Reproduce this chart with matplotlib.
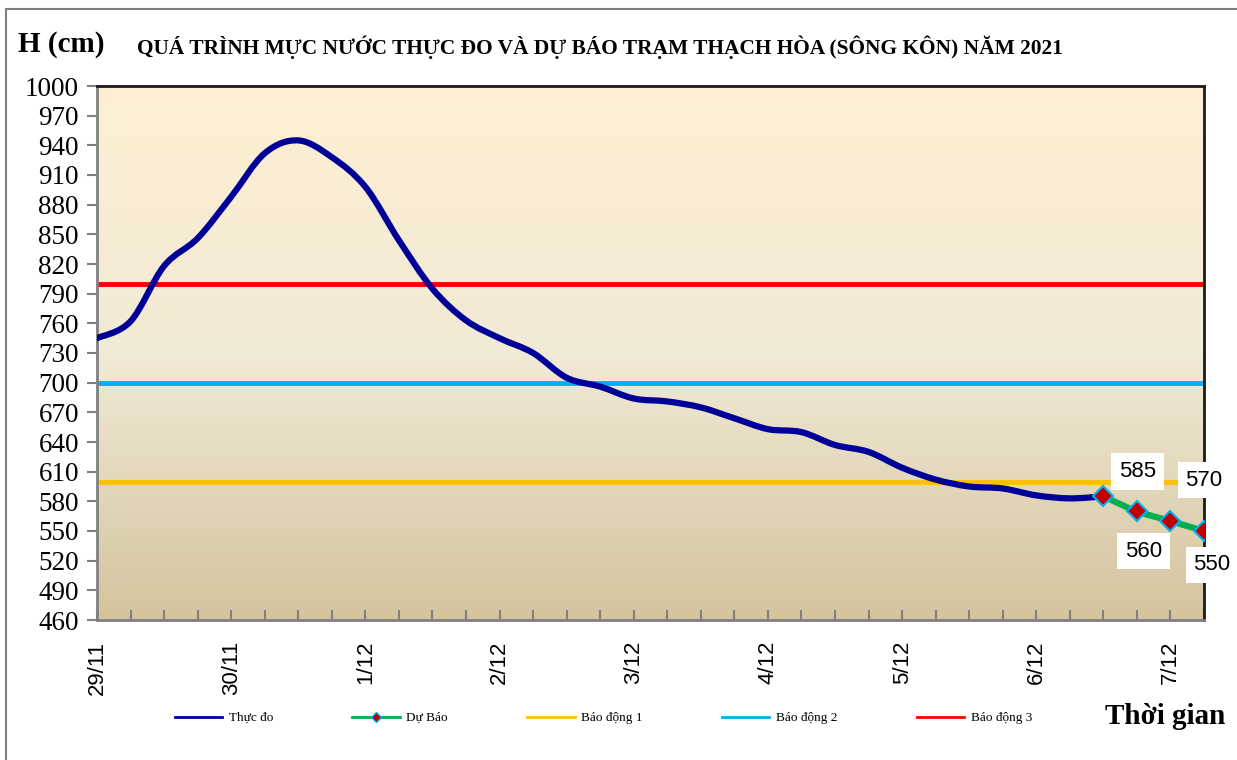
import numpy as np
import matplotlib.pyplot as plt
from matplotlib.colors import LinearSegmentedColormap
from matplotlib.patches import Rectangle, PathPatch
from matplotlib.path import Path
from matplotlib.lines import Line2D

# Data: water level every 6 hours starting 29/11 00h
observed = [745, 762, 818, 846, 888, 932, 945, 928, 898, 844, 795, 763,
            745, 730, 705, 696, 684, 681, 675, 664, 653, 650, 637, 630,
            614, 602, 595, 593, 586, 583, 585]
forecast = [585, 570, 560, 550]
forecast_start = 30
alarm_levels = [600, 700, 800]
alarm_names = ['Báo động 1', 'Báo động 2', 'Báo động 3']
alarm_colors = ['#FFC000', '#00B0F0', '#FF0000']
day_labels = ['29/11', '30/11', '1/12', '2/12', '3/12', '4/12', '5/12', '6/12', '7/12']
label_offsets = [(34, 25), (67, 31), (-27, -30), (8, -34)]  # pixels


def smooth_path(xs, ys):
    # Excel-like smoothed line: Catmull-Rom segments drawn as cubic Beziers
    pts = np.column_stack([xs, ys]).astype(float)
    verts = [pts[0]]
    codes = [Path.MOVETO]
    n = len(pts)
    for i in range(n - 1):
        p0 = pts[max(i - 1, 0)]
        p1 = pts[i]
        p2 = pts[i + 1]
        p3 = pts[min(i + 2, n - 1)]
        c1 = p1 + (p2 - p0) / 6
        c2 = p2 - (p3 - p1) / 6
        verts += [c1, c2, p2]
        codes += [Path.CURVE4] * 3
    return Path(verts, codes)


fig = plt.figure(figsize=(12.37, 7.6), dpi=100)
ax = fig.add_axes([97 / 1237, 1 - 620 / 760, 1107 / 1237, 534 / 760])

x_obs = np.arange(len(observed))
x_fc = np.arange(forecast_start, forecast_start + len(forecast))
x_max = x_fc[-1]

# gradient background
cmap = LinearSegmentedColormap.from_list('bg', ['#FEEFD2', '#F1EAD6', '#D4C49E'])
grad = np.linspace(0, 1, 256).reshape(-1, 1)
ax.imshow(grad, cmap=cmap, aspect='auto', extent=[0, x_max, 460, 1000],
          origin='upper', zorder=0)

for lvl, col in zip(alarm_levels, alarm_colors):
    ax.axhline(lvl, color=col, lw=3.5, zorder=2)

ax.add_patch(PathPatch(smooth_path(x_obs, observed), fill=False, ec='#000099',
                       lw=4.5, capstyle='round', joinstyle='round', zorder=3))
ax.add_patch(PathPatch(smooth_path(x_fc, forecast), fill=False, ec='#00B050',
                       lw=4.5, capstyle='round', zorder=4))
ax.plot(x_fc, forecast, ls='none', marker='D', ms=10, mfc='#C00000',
        mec='#00B0F0', mew=1.5, zorder=5)

for xv, yv, (dx, dy) in zip(x_fc, forecast, label_offsets):
    ax.annotate(str(yv), (xv, yv), xytext=(dx, dy), textcoords='offset pixels',
                ha='center', va='center', fontsize=16, family='Liberation Sans',
                bbox=dict(boxstyle='square,pad=0.35', fc='white', ec='none'),
                zorder=6, annotation_clip=False)

ax.set_xlim(0, x_max)
ax.set_ylim(460, 1000)
ax.set_yticks(np.arange(460, 1001, 30))
ax.set_xticks(np.arange(0, x_max, 4))
ax.set_xticks(np.arange(0, x_max + 1, 1), minor=True)
ax.set_xticklabels(day_labels, rotation=90, fontsize=16, family='Liberation Sans')
for lab in ax.get_yticklabels():
    lab.set_family('Liberation Serif')
    lab.set_fontsize(19.5)
ax.tick_params(axis='y', direction='out', length=7, width=1.5, color='#808080', pad=6)
ax.tick_params(axis='x', which='both', direction='in', length=7, width=1.5,
               color='#808080', pad=15)

for side in ['left', 'bottom']:
    ax.spines[side].set_color('#808080')
    ax.spines[side].set_linewidth(2)
for side in ['top', 'right']:
    ax.spines[side].set_color('#1a1a1a')
    ax.spines[side].set_linewidth(2)

# titles
fig.text(18 / 1237, 1 - 45 / 760, 'H (cm)', fontsize=21, fontweight='bold',
         family='Liberation Serif', va='center')
fig.text(137 / 1237, 1 - 47 / 760,
         'QUÁ TRÌNH MỰC NƯỚC THỰC ĐO VÀ DỰ BÁO TRẠM THẠCH HÒA (SÔNG KÔN) NĂM 2021',
         fontsize=15.4, fontweight='bold', family='Liberation Serif', va='center')
fig.text(1105 / 1237, 1 - 717 / 760, 'Thời gian', fontsize=21, fontweight='bold',
         family='Liberation Serif', va='center')

# legend
handles = [Line2D([], [], color='#000099', lw=2),
           Line2D([], [], color='#00B050', lw=2, marker='D', ms=5,
                  mfc='#C00000', mec='#00B0F0')]
handles += [Line2D([], [], color=c, lw=2) for c in alarm_colors]
names = ['Thực đo', 'Dự Báo'] + alarm_names
fig.legend(handles, names, ncol=5, frameon=False, loc='center left',
           bbox_to_anchor=(168 / 1237, 1 - 718 / 760), borderpad=0,
           prop={'family': 'Liberation Serif', 'size': 9.5},
           handlelength=3.6, handletextpad=0.5, columnspacing=6)

# outer frame
fig.patches.append(Rectangle((6 / 1237, -0.1), 1.2, 1 - 9 / 760 + 0.1,
                             transform=fig.transFigure, fill=False,
                             ec='#808080', lw=1.5))

fig.savefig('out.png', dpi=100)
